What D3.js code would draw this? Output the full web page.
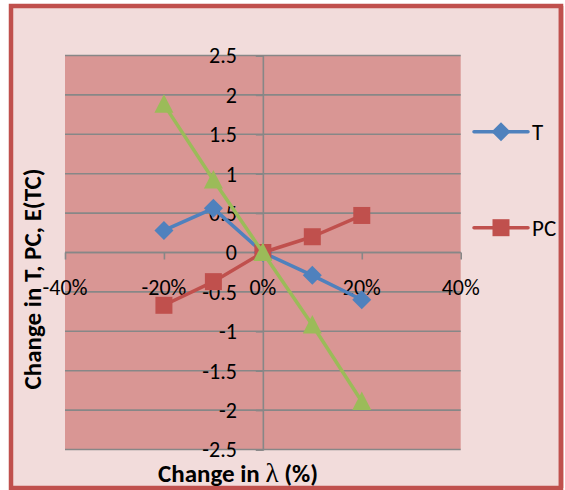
<!DOCTYPE html>
<html>
<head>
<meta charset="utf-8">
<script src="https://cdn.jsdelivr.net/npm/d3@7/dist/d3.min.js"></script>
<style>
  html, body { margin: 0; padding: 0; background: #ffffff; }
  svg { display: block; }
  text { font-family: Carlito, Lato, "Noto Sans", sans-serif; fill: #000; }
</style>
</head>
<body>
<svg id="chart" width="565" height="490"></svg>
<script>
// Sensitivity of T, PC and E(TC) to changes in lambda
const changes = [-20, -10, 0, 10, 20];
const seriesT = [0.28, 0.56, 0, -0.29, -0.60];
const seriesPC = [-0.67, -0.37, 0, 0.20, 0.47];
const seriesETC = [1.88, 0.92, 0, -0.92, -1.89];
const xTicks = [-40, -20, 0, 20, 40];
const yTicks = [-2.5, -2, -1.5, -1, -0.5, 0, 0.5, 1, 1.5, 2, 2.5];
const legendNames = ["T", "PC"];

const svg = d3.select("#chart");

// chart area background with a red frame
svg.append("rect")
  .attr("x", 11).attr("y", 6).attr("width", 550).attr("height", 482)
  .attr("fill", "#F2DCDB").attr("stroke", "#C0504D").attr("stroke-width", 4.5);

const plot = { left: 65, right: 460.7, top: 55.5, bottom: 449.5 };
const x = d3.scaleLinear().domain([-40, 40]).range([plot.left, plot.right]);
const y = d3.scaleLinear().domain([-2.5, 2.5]).range([plot.bottom, plot.top]);

svg.append("rect")
  .attr("x", plot.left).attr("y", plot.top)
  .attr("width", plot.right - plot.left).attr("height", plot.bottom - plot.top)
  .attr("fill", "#D99694");

const gridColor = "#878787";

// horizontal gridlines
svg.append("g").selectAll("line").data(yTicks).join("line")
  .attr("x1", plot.left).attr("x2", plot.right)
  .attr("y1", d => y(d)).attr("y2", d => y(d))
  .attr("stroke", gridColor).attr("stroke-width", 1.6);

// vertical axis through x = 0
const yAxis = d3.axisLeft(y).tickValues(yTicks).tickSize(7).tickFormat("");
const gy = svg.append("g").attr("transform", `translate(${x(0)},0)`).call(yAxis);
gy.select(".domain").attr("stroke", gridColor).attr("stroke-width", 1.6);
gy.selectAll(".tick line").attr("stroke", gridColor).attr("stroke-width", 1.6);

// horizontal axis through y = 0
const xAxis = d3.axisBottom(x).tickValues(xTicks).tickSize(7).tickFormat("");
const gx = svg.append("g").attr("transform", `translate(0,${y(0)})`).call(xAxis);
gx.select(".domain").attr("stroke", gridColor).attr("stroke-width", 1.6)
  .attr("d", `M${plot.left},0H${plot.right}`);
gx.selectAll(".tick line").attr("stroke", gridColor).attr("stroke-width", 1.6);

// y tick labels
svg.append("g").selectAll("text").data(yTicks).join("text")
  .attr("x", x(0) - 26).attr("y", d => y(d))
  .attr("dy", "0.36em")
  .attr("text-anchor", "end")
  .attr("font-size", 22)
  .text(d => String(d));

// x tick labels
svg.append("g").selectAll("text").data(xTicks).join("text")
  .attr("x", d => x(d)).attr("y", y(0) + 35)
  .attr("dy", "0.36em")
  .attr("text-anchor", "middle")
  .attr("font-size", 22)
  .text(d => d + "%");

// series
const series = [
  { name: "T", values: seriesT, color: "#4F81BD", symbol: "diamond" },
  { name: "PC", values: seriesPC, color: "#C0504D", symbol: "square" },
  { name: "E(TC)", values: seriesETC, color: "#9BBB59", symbol: "triangle" }
];

function marker(sel, kind, color) {
  if (kind === "diamond") {
    sel.append("path").attr("d", "M0,-9.5L9.5,0L0,9.5L-9.5,0Z").attr("fill", color);
  } else if (kind === "square") {
    sel.append("rect").attr("x", -8.5).attr("y", -8.5).attr("width", 17).attr("height", 17).attr("fill", color);
  } else {
    sel.append("path").attr("d", "M0,-10L9.5,8.5L-9.5,8.5Z").attr("fill", color);
  }
}

const line = d3.line().x(d => x(d[0])).y(d => y(d[1]));

series.forEach(s => {
  const pts = changes.map((c, i) => [c, s.values[i]]);
  const g = svg.append("g");
  g.append("path").datum(pts)
    .attr("d", line)
    .attr("fill", "none").attr("stroke", s.color)
    .attr("stroke-width", 3.5).attr("stroke-linejoin", "round").attr("stroke-linecap", "round");
  pts.forEach(p => {
    const m = g.append("g").attr("transform", `translate(${x(p[0])},${y(p[1])})`);
    marker(m, s.symbol, s.color);
  });
});

// legend
const legendY = [131.7, 227.7];
legendNames.forEach((name, i) => {
  const s = series.find(d => d.name === name);
  const g = svg.append("g").attr("transform", `translate(0,${legendY[i]})`);
  g.append("line").attr("x1", 474).attr("x2", 528).attr("y1", 0).attr("y2", 0)
    .attr("stroke", s.color).attr("stroke-width", 3.5).attr("stroke-linecap", "round");
  const m = g.append("g").attr("transform", "translate(501,0)");
  marker(m, s.symbol, s.color);
  g.append("text").attr("x", 532).attr("y", 0).attr("dy", "0.36em")
    .attr("font-size", 23).text(name);
});

// redraw right frame edge over clipped legend text
svg.append("line").attr("x1", 561).attr("x2", 561).attr("y1", 6).attr("y2", 488)
  .attr("stroke", "#C0504D").attr("stroke-width", 4.5);

// axis titles
svg.append("text")
  .attr("transform", "translate(41,279) rotate(-90)")
  .attr("text-anchor", "middle")
  .attr("font-size", 25).attr("font-weight", "bold")
  .text("Change in T, PC, E(TC)");

const xt = svg.append("text")
  .attr("x", 238).attr("y", 482)
  .attr("text-anchor", "middle")
  .attr("font-size", 25).attr("font-weight", "bold");
xt.append("tspan").text("Change in ");
xt.append("tspan").attr("font-family", "'Liberation Serif', serif").attr("font-weight", "normal").attr("font-size", 27).text("λ");
xt.append("tspan").text(" (%)");
</script>
</body>
</html>
